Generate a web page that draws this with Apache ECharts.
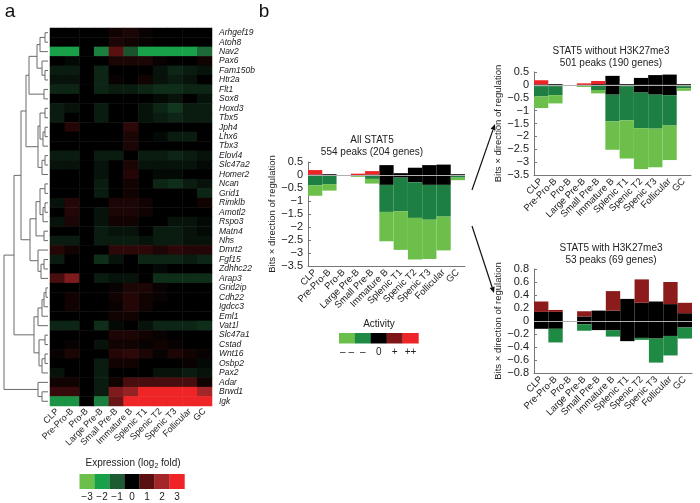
<!DOCTYPE html>
<html><head><meta charset="utf-8">
<script src="https://cdn.jsdelivr.net/npm/echarts@6/dist/echarts.min.js"></script>
<style>html,body{margin:0;padding:0;background:#fff}#c{width:700px;height:503px}</style>
</head><body><div id="c"></div><script>
// ---------- DATA ----------
const genes = ['Arhgef19','Atoh8','Nav2','Pax6','Fam150b','Htr2a','Flt1','Sox8','Hoxd3','Tbx5','Jph4','Lhx6','Tbx3','Elovl4','Slc47a2','Homer2','Ncan','Grid1','Rimklb','Amotl2','Rspo3','Matn4','Nhs','Dmrt2','Fgf15','Zdhhc22','Arap3','Grid2ip','Cdh22','Igdcc3','Eml1','Vat1l','Slc47a1','Cstad','Wnt16','Osbp2','Pax2','Adar','Brwd1','Igk'];
const stages = ['CLP','Pre-Pro-B','Pro-B','Large Pre-B','Small Pre-B','Immature B','Splenic T1','Spenic T2','Spenic T3','Follicular','GC'];
// log2 fold expression, one row per gene, columns = stages
const expression = [
 [0,0,0,0,0.2,0.3,0.1,0,0,0,0],
 [0,0,0,0,0.3,0.2,0.1,0,0,0,0],
 [-2,-2,0,-1.5,1,-0.9,-2,-2,-2,-2,-1.2],
 [0,-0.1,0,0,0.3,0.3,0.3,0.1,0,0,0.2],
 [-0.3,-0.3,0,-0.4,0,0,0,-0.2,-0.4,-0.3,-0.2],
 [-0.2,-0.2,0,-0.4,0.1,0,0.2,-0.2,-0.3,-0.2,0],
 [-0.4,-0.4,0,-0.4,-0.3,-0.3,-0.4,-0.5,-0.5,-0.4,-0.4],
 [0,0,0,0,0,0,0,-0.1,-0.2,0,-0.2],
 [-0.3,-0.2,0,-0.3,0,0,-0.2,-0.4,-0.6,-0.3,-0.3],
 [-0.3,0,0,-0.3,0,0,-0.2,-0.3,-0.4,-0.3,-0.3],
 [0,0.4,0,0,0,0.5,0,0,0,0,0],
 [0,0,0,0,0,0.3,0,-0.1,-0.3,-0.3,0],
 [0,0,0,0,0,0.3,0,0,0,0,0],
 [-0.3,-0.3,0,-0.3,-0.3,0,-0.3,-0.3,-0.4,-0.3,-0.2],
 [-0.2,-0.2,0,-0.2,0,0.3,-0.2,-0.2,-0.2,-0.2,-0.1],
 [0,0,0,-0.2,0,0.4,0,-0.1,-0.1,0,0],
 [0,0,0,-0.3,0,0.2,0,-0.4,-0.5,-0.3,-0.2],
 [0,0,0,-0.3,0,0.2,0,0,0,0,-0.4],
 [-0.2,0.4,0,0,0.3,0.3,0.2,0,0,0,0.2],
 [0,0.4,0,-0.2,0.3,0.3,0.2,0,0,0,0],
 [-0.2,0.3,0,-0.2,0.2,0.2,0,0,-0.2,-0.2,-0.1],
 [0,0,0,-0.3,-0.2,-0.2,0,-0.3,-0.3,-0.2,-0.1],
 [-0.3,-0.3,0,-0.3,-0.3,-0.3,-0.2,-0.3,-0.3,-0.2,-0.2],
 [0.4,0.2,0,0,0.5,0.5,0.5,0.3,0.5,0.4,0.4],
 [-0.3,0,0,-0.5,-0.2,0,-0.4,-0.4,-0.4,-0.3,-0.4],
 [0,0,0,0,0,0,0,-0.1,0,0,0],
 [0.8,1.5,0,-0.3,-0.2,-0.2,0,-0.5,-0.5,-0.5,-0.5],
 [0,0,0,0,0.1,0.3,0.3,0.1,0,0,0],
 [0,0.2,0,0,0.2,0.4,0.2,0.1,0,0,0],
 [0,0.2,0,0,0.1,0.4,0.2,0,0,0,0],
 [0,0,0,0,0.2,0.2,0,0,0,0,0],
 [-0.4,-0.4,0,-0.5,-0.1,0,-0.2,-0.4,-0.4,-0.4,-0.5],
 [0,0,0,0,0.3,0.3,0.2,0.1,0,0,0],
 [0,0.1,0,-0.2,0.2,0.2,0.1,0.2,0.1,0,0],
 [0.1,0.3,0,0,0.4,0.5,0.3,0.1,0.3,0.2,0.1],
 [0,0,0,-0.3,0.2,0.2,0,0,0,0.1,-0.1],
 [-0.2,0,0,-0.3,0,0,0,-0.2,-0.2,-0.3,-0.2],
 [0.2,0.2,0,-0.3,0.2,0.8,0.8,0.8,0.8,0.8,0.2],
 [0.6,0.6,0,-0.3,1.5,1.8,3,3,3,3,2],
 [-1.8,-1.8,0,-1.5,1.2,3,3,3,3,3,3]
];
// dendrogram merges: [childA, childB, height]; leaves 0..39, new nodes 40,41,...
const dendroMerges = [
 [0,1,3],[40,2,8],[4,5,3],[3,42,6],[41,43,11],[6,7,4],[44,45,19],
 [8,9,3],[10,11,3],[48,12,5],[47,49,8],[13,14,3],[51,15,6],[50,52,10],
 [16,17,3],[18,19,3],[55,20,5],[54,56,8],[21,22,4],[57,58,12],
 [24,25,4],[60,26,7],[23,61,10],
 [46,53,22],[59,62,18],[63,64,27],
 [27,28,2],[66,29,4],[67,30,6],[68,31,10],[32,33,3],[34,35,3],[71,36,6],[70,72,9],[69,73,14],
 [65,74,34],
 [38,39,6],[37,76,10],
 [75,77,44]
];
// panel b: boundaries of stacked activity blocks (Bits x direction of regulation)
const allBlackHi   = [0.02,0.03,null,0.00,0.02,0.38,0.07,0.28,0.38,0.40,0.03];
const allRedHi     = [0.19,0.03,null,0.05,0.15,0.38,0.07,0.28,0.38,0.40,0.03];
const allBlackLo   = [-0.03,-0.03,null,0.00,-0.02,-0.38,-0.10,-0.28,-0.38,-0.38,-0.03];
const allDkGreenLo = [-0.40,-0.35,null,0.00,-0.15,-1.42,-1.40,-1.65,-1.72,-1.60,-0.10];
const allLtGreenLo = [-0.80,-0.60,null,-0.07,-0.33,-2.55,-2.88,-3.25,-3.23,-2.90,-0.20];

const woBlackHi   = [0.02,0.03,null,0.00,0.03,0.35,0.03,0.27,0.38,0.40,0.03];
const woRedHi     = [0.18,0.03,null,0.06,0.15,0.35,0.03,0.27,0.38,0.40,0.03];
const woBlackLo   = [-0.05,-0.05,null,0.00,-0.03,-0.38,-0.05,-0.30,-0.38,-0.40,-0.05];
const woDkGreenLo = [-0.45,-0.40,null,-0.02,-0.20,-1.42,-1.38,-1.68,-1.70,-1.58,-0.13];
const woLtGreenLo = [-0.90,-0.72,null,-0.08,-0.33,-2.52,-2.86,-3.27,-3.20,-2.92,-0.23];

const wBlackHi = [0.14,0.14,null,0.07,0.16,0.16,0.34,0.28,0.30,0.26,0.12];
const wRedHi   = [0.30,0.17,null,0.15,0.16,0.46,0.34,0.64,0.30,0.60,0.28];
const wBlackLo = [-0.12,-0.12,null,-0.05,-0.14,-0.14,-0.31,-0.26,-0.27,-0.23,-0.10];
const wGreenLo = [-0.12,-0.33,null,-0.15,-0.14,-0.24,-0.31,-0.29,-0.64,-0.53,-0.27];

const exprLegendColors = ['#6cbf4a','#19a14a','#1d5c33','#000000','#5a1011','#a32628','#ee2426'];
const exprLegendTicks = ['\u22123','\u22122','\u22121','0','1','2','3'];
const actLegendColors = ['#6cbf4a','#1e8a44','#000000','#7e1517','#ee2426'];
const actLegendTicks = ['\u2013 \u2013','\u2013','0','+','++'];

// ---------- BUILD ----------
const FONT = 'Liberation Sans, Arial, sans-serif';
const heatData = [];
expression.forEach((row, r) => row.forEach((v, c) => heatData.push([c, r, v])));

const nodeY = {}, nodeH = {};
for (let i = 0; i < genes.length; i++) { nodeY[i] = i; nodeH[i] = 0; }
const dendroData = [];
dendroMerges.forEach((m, k) => {
  const id = genes.length + k;
  const [a, b, h] = m;
  dendroData.push([h, nodeY[a], nodeY[b], nodeH[a], nodeH[b]]);
  nodeY[id] = (nodeY[a] + nodeY[b]) / 2;
  nodeH[id] = h;
});

function seg(hi, lo) { return hi.map((v, i) => (v == null || lo[i] == null) ? null : (Math.abs(v - lo[i]) < 1e-9 ? null : +(v - lo[i]).toFixed(3))); }
const zeros = allBlackHi.map(v => v == null ? null : 0);

const fmt = v => { const s = String(+(+v).toFixed(2)); return s.replace('-', '\u2212'); };

function barChart(gi, blackHi, redHi, blackLo, g1Lo, g2Lo, redColor, g1Color, g2Color) {
  const base = { type: 'bar', xAxisIndex: gi, yAxisIndex: gi, stack: 's' + gi, barCategoryGap: '0%', barWidth: '100%', z: 3, silent: true };
  const list = [
    Object.assign({}, base, { name: 'bh' + gi, data: seg(blackHi, zeros), itemStyle: { color: '#000' } }),
    Object.assign({}, base, { name: 'bl' + gi, data: seg(blackLo, zeros), itemStyle: { color: '#000' } }),
    Object.assign({}, base, { name: 'r' + gi, data: seg(redHi, blackHi), itemStyle: { color: redColor } }),
    Object.assign({}, base, { name: 'g1' + gi, data: seg(g1Lo, blackLo), itemStyle: { color: g1Color } })
  ];
  if (g2Lo) list.push(Object.assign({}, base, { name: 'g2' + gi, data: seg(g2Lo, g1Lo), itemStyle: { color: g2Color } }));
  list.push({ type: 'line', xAxisIndex: gi, yAxisIndex: gi, data: [], z: 1, silent: true, symbol: 'none',
    markLine: { silent: true, symbol: 'none', label: { show: false }, lineStyle: { color: '#b0b0b0', type: 'solid', width: 1 }, data: [{ yAxis: 0 }] } });
  return list;
}

const barGrids = [
  { left: 308, top: 162, width: 157, height: 104 },
  { left: 534, top: 72, width: 157, height: 103 },
  { left: 534, top: 269, width: 158, height: 104 }
];
const barY = [
  { min: -3.5, max: 0.5, interval: 0.5 },
  { min: -3.5, max: 0.5, interval: 0.5 },
  { min: -0.8, max: 0.8, interval: 0.2 }
];

const grids = [
  { left: 50, top: 28, width: 162, height: 378 },
  { left: 4, top: 28, width: 44, height: 378 }
].concat(barGrids);

const xAxes = [
  { type: 'category', gridIndex: 0, data: stages, position: 'bottom', axisLine: { show: false }, axisTick: { show: false },
    axisLabel: { rotate: 45, interval: 0, fontSize: 9, fontFamily: FONT, color: '#222', margin: 4 } },
  { type: 'value', gridIndex: 1, min: 0, max: 44, inverse: true, show: false }
];
const yAxes = [
  { type: 'category', gridIndex: 0, data: genes, inverse: true, position: 'right', axisLine: { show: false }, axisTick: { show: false },
    axisLabel: { interval: 0, fontSize: 8.5, fontStyle: 'italic', fontFamily: FONT, color: '#1a1a1a', margin: 7 } },
  { type: 'value', gridIndex: 1, min: -0.5, max: genes.length - 0.5, inverse: true, show: false }
];
barGrids.forEach((g, i) => {
  const gi = i + 2;
  xAxes.push({ type: 'category', gridIndex: gi, data: stages, position: 'bottom',
    axisLine: { onZero: false, lineStyle: { color: '#777', width: 1 } },
    axisTick: { inside: true, length: 3, alignWithLabel: true, lineStyle: { color: '#777' } },
    axisLabel: { rotate: 45, interval: 0, fontSize: 9.5, fontFamily: FONT, color: '#222', margin: 5 } });
  yAxes.push(Object.assign({ type: 'value', gridIndex: gi, name: 'Bits \u00d7 direction of regulation', nameLocation: 'middle', nameGap: 29,
    nameTextStyle: { fontSize: 9.5, fontFamily: FONT, color: '#222' },
    axisLine: { show: true, lineStyle: { color: '#777', width: 1 } },
    axisTick: { show: true, inside: true, length: 3, lineStyle: { color: '#777' } },
    splitLine: { show: false },
    axisLabel: { fontSize: 11, fontFamily: FONT, color: '#222', margin: 5, formatter: fmt } }, barY[i]));
});

const series = [
  { type: 'heatmap', xAxisIndex: 0, yAxisIndex: 0, data: heatData, silent: true, itemStyle: { borderWidth: 0 }, emphasis: { disabled: true } },
  { type: 'custom', xAxisIndex: 1, yAxisIndex: 1, data: dendroData, silent: true,
    encode: { x: [0, 3, 4], y: [1, 2] },
    renderItem: (params, api) => {
      const h = api.value(0), yl = api.value(1), yr = api.value(2), hl = api.value(3), hr = api.value(4);
      return { type: 'polyline', shape: { points: [api.coord([hl, yl]), api.coord([h, yl]), api.coord([h, yr]), api.coord([hr, yr])] },
        style: { stroke: '#6a6a6a', lineWidth: 1, fill: null } };
    } }
].concat(
  barChart(2, allBlackHi, allRedHi, allBlackLo, allDkGreenLo, allLtGreenLo, '#ee2426', '#1d7f41', '#6cbf4a'),
  barChart(3, woBlackHi, woRedHi, woBlackLo, woDkGreenLo, woLtGreenLo, '#ee2426', '#1d7f41', '#6cbf4a'),
  barChart(4, wBlackHi, wRedHi, wBlackLo, wGreenLo, null, '#8c1b1c', '#1e8a44', null)
);

const graphic = [];
const txt = (x, y, s, size, extra) => graphic.push({ type: 'text', x, y, style: Object.assign({ text: s, fontSize: size, fontFamily: FONT, fill: '#222', align: 'center', verticalAlign: 'middle' }, extra || {}) });
txt(10, 12, 'a', 19, { fill: '#111' });
txt(264, 12, 'b', 19, { fill: '#111' });
txt(372, 140, 'All STAT5', 10);
txt(372, 152, '554 peaks (204 genes)', 10);
txt(611, 51, 'STAT5 without H3K27me3', 10);
txt(611, 63, '501 peaks (190 genes)', 10);
txt(611, 248, 'STAT5 with H3K27me3', 10);
txt(611, 260, '53 peaks (69 genes)', 10);
graphic.push({ type: 'text', x: 133, y: 463, style: { text: 'Expression (log{s|2} fold)', rich: { s: { fontSize: 7, padding: [6, 0, 0, 0], fontFamily: FONT, fill: '#222' } }, fontSize: 10, fontFamily: FONT, fill: '#222', align: 'center', verticalAlign: 'middle' } });
exprLegendColors.forEach((c, i) => {
  graphic.push({ type: 'rect', shape: { x: 79.5 + i * 15, y: 474, width: 15.2, height: 15 }, style: { fill: c } });
  txt(87 + i * 15, 497, exprLegendTicks[i], 10);
});
txt(379, 324, 'Activity', 10);
actLegendColors.forEach((c, i) => {
  graphic.push({ type: 'rect', shape: { x: 339 + i * 15.9, y: 333, width: 16.1, height: 10.5 }, style: { fill: c } });
  txt(347 + i * 15.9, 352, actLegendTicks[i], 10);
});
function arrow(x1, y1, x2, y2) {
  const ang = Math.atan2(y2 - y1, x2 - x1), L = 6, W = 2.6;
  const bx = x2 - L * Math.cos(ang), by = y2 - L * Math.sin(ang);
  graphic.push({ type: 'line', shape: { x1, y1, x2: bx, y2: by }, style: { stroke: '#111', lineWidth: 1.2 } });
  graphic.push({ type: 'polygon', shape: { points: [[x2, y2], [bx - W * Math.sin(ang), by + W * Math.cos(ang)], [bx + W * Math.sin(ang), by - W * Math.cos(ang)]] }, style: { fill: '#111' } });
}
arrow(472, 190, 495, 124);
arrow(472, 226, 494, 293);

const chart = echarts.init(document.getElementById('c'), null, { renderer: 'canvas' });
chart.setOption({
  animation: false,
  backgroundColor: '#fff',
  textStyle: { fontFamily: FONT },
  grid: grids,
  xAxis: xAxes,
  yAxis: yAxes,
  visualMap: { show: false, seriesIndex: 0, min: -3, max: 3, calculable: false,
    inRange: { color: ['#6cbf4a', '#19a14a', '#1d5c33', '#000000', '#5a1011', '#a32628', '#ee2426'] } },
  series,
  graphic
});
</script></body></html>
